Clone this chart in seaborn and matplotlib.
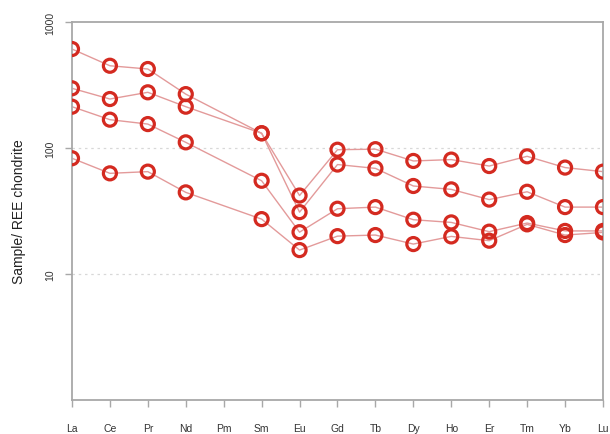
import numpy as np
import pandas as pd
import matplotlib
matplotlib.use("Agg")
import matplotlib.pyplot as plt
import seaborn as sns

# Rare earth elements in atomic order (Pm has no measurement)
elements = ["La", "Ce", "Pr", "Nd", "Pm", "Sm", "Eu", "Gd", "Tb", "Dy",
            "Ho", "Er", "Tm", "Yb", "Lu"]

# Chondrite-normalised REE abundances for four samples (None = not measured)
sample_1 = [611, 450, 424, 268, None, 131, 42.0, 97, 98, 79, 81, 72, 86, 70, 65]
sample_2 = [298, 245, 277, 213, None, 131, 31.0, 74, 69, 50, 47, 39, 45, 34, 34]
sample_3 = [213, 168, 155, 111, None, 55, 21.5, 33, 34, 27, 25.7, 21.7, 25.4, 22, 22]
sample_4 = [83, 63, 65, 44.5, None, 27.3, 15.5, 20, 20.4, 17.3, 19.9, 18.4, 24.8, 20.4, 21.4]

samples = {"S1": sample_1, "S2": sample_2, "S3": sample_3, "S4": sample_4}

rows = []
for name, vals in samples.items():
    for i, (el, v) in enumerate(zip(elements, vals)):
        if v is not None:
            rows.append({"sample": name, "pos": i, "element": el, "value": v})
df = pd.DataFrame(rows)

sns.set_style("white")
plt.rcParams["font.family"] = ["Liberation Sans", "DejaVu Sans"]

red = "#d42a20"
line_red = "#e39a9a"
frame = "#a8a8a8"

fig = plt.figure(figsize=(6.10, 4.35), dpi=100)
ax = fig.add_axes([0.118, 0.078, 0.8705, 0.869])

sns.lineplot(data=df, x="pos", y="value", units="sample", estimator=None,
             color=line_red, linewidth=1.0, ax=ax, legend=False, zorder=2)
sns.scatterplot(data=df, x="pos", y="value", ax=ax, s=88, marker="o",
                facecolor="none", edgecolor=red, linewidth=2.3,
                legend=False, zorder=3)

ax.set_yscale("log")
ax.set_ylim(1, 1000)
ax.set_xlim(0, len(elements) - 1)

ax.set_yticks([10, 100, 1000])
ax.set_yticklabels(["10", "100", "1000"], rotation=90, va="center")
ax.yaxis.set_minor_locator(matplotlib.ticker.NullLocator())
ax.set_xticks(range(len(elements)))
ax.set_xticklabels(elements)

for yv in [10, 100]:
    ax.axhline(yv, color="#d8d8d8", linestyle=(0, (2, 3)), linewidth=0.9, zorder=1)

for sp in ax.spines.values():
    sp.set_visible(True)
    sp.set_color(frame)
    sp.set_linewidth(1.3)

ax.tick_params(axis="x", length=5, width=1.0, color=frame, pad=11.5,
               labelsize=7.5, labelcolor="#333333", direction="out", bottom=True)
ax.tick_params(axis="y", length=5, width=1.0, color=frame, pad=7,
               labelsize=7.5, labelcolor="#333333", direction="out", left=True)

ax.set_xlabel("")
ax.set_ylabel("Sample/ REE chondrite", fontsize=10, color="#222222", labelpad=14)

fig.savefig("out.png", dpi=100)
